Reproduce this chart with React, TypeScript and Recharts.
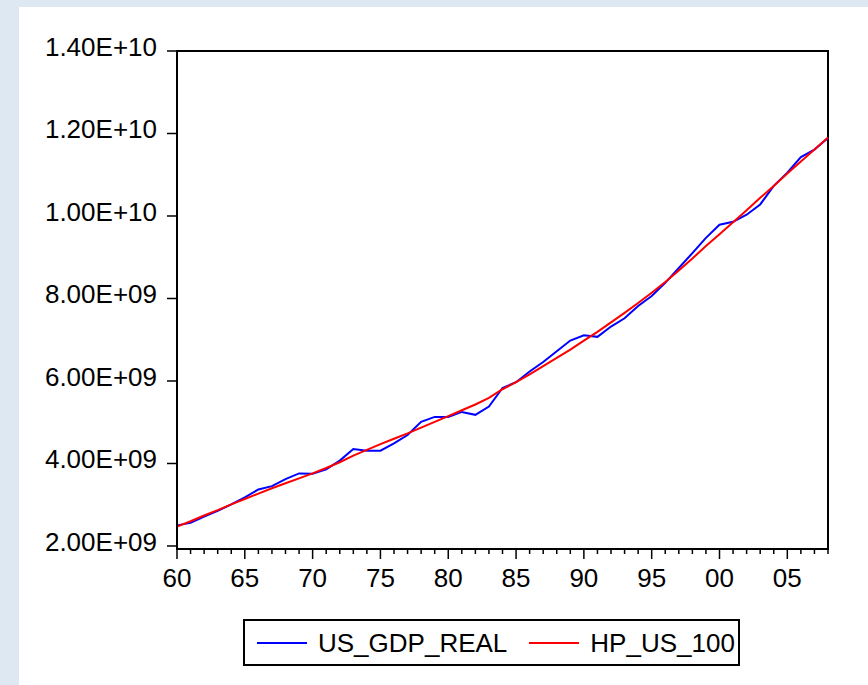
import { LineChart, Line, XAxis, YAxis, Legend, ReferenceArea } from "recharts";

// values in billions (1e9)
const years = [
  1960, 1961, 1962, 1963, 1964, 1965, 1966, 1967, 1968, 1969,
  1970, 1971, 1972, 1973, 1974, 1975, 1976, 1977, 1978, 1979,
  1980, 1981, 1982, 1983, 1984, 1985, 1986, 1987, 1988, 1989,
  1990, 1991, 1992, 1993, 1994, 1995, 1996, 1997, 1998, 1999,
  2000, 2001, 2002, 2003, 2004, 2005, 2006, 2007, 2008,
];

const usGdpReal = [
  2.5, 2.56, 2.71, 2.85, 3.01, 3.18, 3.37, 3.45, 3.62, 3.76,
  3.75, 3.86, 4.07, 4.35, 4.31, 4.31, 4.49, 4.69, 5.01, 5.13,
  5.13, 5.25, 5.18, 5.38, 5.83, 5.97, 6.23, 6.46, 6.72, 6.98,
  7.11, 7.07, 7.32, 7.52, 7.82, 8.06, 8.38, 8.74, 9.1, 9.47,
  9.79, 9.86, 10.03, 10.28, 10.73, 11.05, 11.43, 11.61, 11.89,
];

const hpUs100 = [
  2.47, 2.6, 2.74, 2.87, 3.01, 3.14, 3.27, 3.4, 3.52, 3.64,
  3.76, 3.89, 4.03, 4.19, 4.33, 4.47, 4.6, 4.73, 4.87, 5.01,
  5.15, 5.29, 5.43, 5.59, 5.8, 5.97, 6.16, 6.36, 6.56, 6.76,
  6.98, 7.19, 7.42, 7.65, 7.89, 8.14, 8.4, 8.68, 8.97, 9.27,
  9.56, 9.85, 10.14, 10.44, 10.73, 11.03, 11.32, 11.61, 11.9,
];

const seriesNames = ["US_GDP_REAL", "HP_US_100"];

const yTicks = [2e9, 4e9, 6e9, 8e9, 1e10, 1.2e10, 1.4e10];

const data = years.map((year, i) => ({
  year,
  gdp: usGdpReal[i] * 1e9,
  hp: hpUs100[i] * 1e9,
}));

const FONT = '"Liberation Sans", Arial, sans-serif';

const fmtSci = (v: number) => {
  const e = Math.floor(Math.log10(v));
  const m = v / Math.pow(10, e);
  return `${m.toFixed(2)}E+${String(e).padStart(2, "0")}`;
};

const XTick = (props: any) => {
  const { x, y, payload } = props;
  const yr = payload.value as number;
  const major = yr % 5 === 0;
  return (
    <g>
      <line x1={x} y1={y} x2={x} y2={y + (major ? 10 : 5)} stroke="#000" strokeWidth={1.5} />
      {major && (
        <text x={x} y={y + 38} textAnchor="middle" fill="#000" fontSize={26} fontFamily={FONT}>
          {String(yr % 100).padStart(2, "0")}
        </text>
      )}
    </g>
  );
};

const YTick = (props: any) => {
  const { x, y, payload } = props;
  return (
    <g>
      <line x1={x - 10} y1={y} x2={x} y2={y} stroke="#000" strokeWidth={1.5} />
      <text x={x - 20} y={y + 5} textAnchor="end" fill="#000" fontSize={26} fontFamily={FONT}>
        {fmtSci(payload.value)}
      </text>
    </g>
  );
};

const LegendBox = (props: any) => {
  const items = [...(props.payload || [])].sort(
    (a: any, b: any) => seriesNames.indexOf(a.value) - seriesNames.indexOf(b.value)
  );
  return (
    <div
      style={{
        width: 497,
        height: 47,
        boxSizing: "border-box",
        border: "2px solid #000",
        background: "#fff",
        display: "flex",
        alignItems: "center",
        paddingLeft: 12,
        fontFamily: FONT,
        fontSize: 26,
        color: "#000",
      }}
    >
      {items.map((it: any, i: number) => (
        <div key={i} style={{ display: "flex", alignItems: "center", marginLeft: i === 0 ? 0 : 22 }}>
          <div style={{ width: 50, height: 0, borderTop: `2px solid ${it.color}` }} />
          <span style={{ marginLeft: 11, lineHeight: "26px" }}>{it.value}</span>
        </div>
      ))}
    </div>
  );
};

export default function App() {
  return (
    <div
      style={{
        position: "absolute",
        left: 0,
        top: 0,
        width: 868,
        height: 685,
        background: "#dde8f2",
        fontFamily: FONT,
      }}
    >
      <div style={{ position: "absolute", left: 19, top: 7, width: 849, height: 678, background: "#fff" }} />
      <div style={{ position: "absolute", left: 0, top: 0 }}>
        <LineChart width={868} height={685} data={data} margin={{ top: 51, right: 40, bottom: 96, left: 0 }}>
          <XAxis
            dataKey="year"
            type="number"
            domain={[1960, 2008]}
            ticks={years}
            interval={0}
            height={40}
            tickSize={0}
            tickMargin={0}
            tickLine={false}
            axisLine={{ stroke: "#000", strokeWidth: 2 }}
            tick={<XTick />}
          />
          <YAxis
            type="number"
            domain={[1.927e9, 1.4e10]}
            ticks={yTicks}
            interval={0}
            width={177}
            tickSize={0}
            tickMargin={0}
            tickLine={false}
            axisLine={{ stroke: "#000", strokeWidth: 2 }}
            tick={<YTick />}
            allowDataOverflow
          />
          <ReferenceArea
            x1={1960}
            x2={2008}
            y1={1.927e9}
            y2={1.4e10}
            fill="none"
            stroke="#000"
            strokeWidth={2}
            fillOpacity={0}
          />
          <Line
            type="linear"
            dataKey="gdp"
            name={seriesNames[0]}
            stroke="#0000ff"
            strokeWidth={2}
            dot={false}
            isAnimationActive={false}
          />
          <Line
            type="linear"
            dataKey="hp"
            name={seriesNames[1]}
            stroke="#ff0000"
            strokeWidth={2}
            dot={false}
            isAnimationActive={false}
          />
          <Legend
            layout="horizontal"
            verticalAlign="middle"
            align="center"
            content={<LegendBox />}
            wrapperStyle={{ left: 243, top: 619, width: 497, height: 47 }}
          />
        </LineChart>
      </div>
    </div>
  );
}
